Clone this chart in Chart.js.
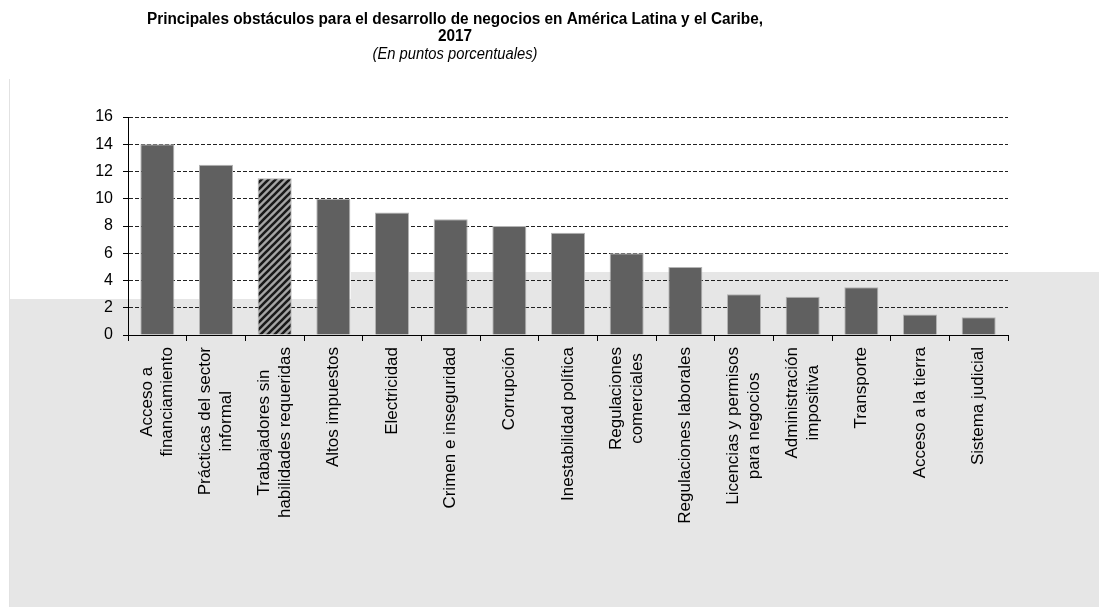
<!DOCTYPE html>
<html>
<head>
<meta charset="utf-8">
<script src="https://cdn.jsdelivr.net/npm/chart.js@4.4.0/dist/chart.umd.min.js"></script>
<style>
  html, body { margin: 0; padding: 0; background: #fff; }
  #wrap { width: 1099px; height: 607px; }
</style>
</head>
<body>
<div id="wrap"><canvas id="chart" width="1099" height="607"></canvas></div>
<script>
// data
const categories = [
    ['Acceso a', 'financiamiento'],
    ['Prácticas del sector', 'informal'],
    ['Trabajadores sin', 'habilidades requeridas'],
    ['Altos impuestos'],
    ['Electricidad'],
    ['Crimen e inseguridad'],
    ['Corrupción'],
    ['Inestabilidad política'],
    ['Regulaciones', 'comerciales'],
    ['Regulaciones laborales'],
    ['Licencias y permisos', 'para negocios'],
    ['Administración', 'impositiva'],
    ['Transporte'],
    ['Acceso a la tierra'],
    ['Sistema judicial']
]
const values = [14, 12.5, 11.5, 10, 9, 8.5, 8, 7.5, 6, 5, 3, 2.8, 3.5, 1.5, 1.3]
const yTicks = [0, 2, 4, 6, 8, 10, 12, 14, 16]
const hatchedIndex = 2
const titleLines = ['Principales obstáculos para el desarrollo de negocios en América Latina y el Caribe,', '2017']
const subtitle = '(En puntos porcentuales)'

const FONT = '"Liberation Sans", Arial, sans-serif'

// diagonal hatch for the highlighted bar
function makeHatch() {
    const c = document.createElement('canvas')
    c.width = 7
    c.height = 7
    const g = c.getContext('2d')
    g.fillStyle = '#a4a4a4'
    g.fillRect(0, 0, 7, 7)
    g.strokeStyle = '#1a1a1a'
    g.lineWidth = 2.6
    g.beginPath()
    g.moveTo(-1, 8); g.lineTo(8, -1)
    g.moveTo(-5, 5); g.lineTo(5, -5)
    g.moveTo(2, 12); g.lineTo(12, 2)
    g.stroke()
    return g.createPattern(c, 'repeat')
}
const hatch = makeHatch()
const barColors = values.map((v, i) => i === hatchedIndex ? hatch : '#606060')

const backdrop = {
    id: 'backdrop',
    beforeDraw(chart) {
        const ctx = chart.ctx
        ctx.save()
        ctx.fillStyle = '#fff'
        ctx.fillRect(0, 0, chart.width, chart.height)
        ctx.fillStyle = '#e6e6e6'
        ctx.fillRect(9, 299, 342, chart.height - 299)
        ctx.fillRect(351, 272, chart.width - 351, chart.height - 272)
        ctx.strokeStyle = '#e2e2e2'
        ctx.lineWidth = 1
        ctx.beginPath()
        ctx.moveTo(9.5, 79)
        ctx.lineTo(9.5, chart.height)
        ctx.stroke()
        ctx.restore()
    }
}

const texts = {
    id: 'texts',
    afterDraw(chart) {
        const ctx = chart.ctx
        ctx.save()
        ctx.fillStyle = '#000'
        ctx.textAlign = 'center'
        ctx.textBaseline = 'middle'

        // title, squeezed like the narrow font of the original
        ctx.font = 'bold 16px ' + FONT
        const sx = 616 / ctx.measureText(titleLines[0]).width
        const titleY = [20, 37]
        titleLines.forEach((t, i) => {
            ctx.save()
            ctx.translate(455, titleY[i])
            ctx.scale(sx, 1)
            ctx.fillText(t, 0, 0)
            ctx.restore()
        })
        ctx.font = 'italic 16px ' + FONT
        const sx2 = 165 / ctx.measureText(subtitle).width
        ctx.save()
        ctx.translate(455, 55)
        ctx.scale(sx2, 1)
        ctx.fillText(subtitle, 0, 0)
        ctx.restore()

        // category labels, rotated, lines centred on each other
        const xs = chart.scales.x
        const lineH = 20.5
        ctx.font = '17px ' + FONT
        categories.forEach((lines, i) => {
            const cx = xs.getPixelForValue(i)
            const w = Math.max(...lines.map(l => ctx.measureText(l).width))
            ctx.save()
            ctx.translate(cx, xs.top + 12 + w / 2)
            ctx.rotate(-Math.PI / 2)
            lines.forEach((l, j) => {
                ctx.fillText(l, 0, (j - (lines.length - 1) / 2) * lineH)
            })
            ctx.restore()
        })
        ctx.restore()
    }
}

new Chart(document.getElementById('chart'), {
    type: 'bar',
    data: {
        labels: categories,
        datasets: [{
            data: values,
            backgroundColor: barColors,
            borderColor: '#b4b4b4',
            borderWidth: 1,
            borderSkipped: 'bottom',
            barPercentage: 0.58,
            categoryPercentage: 1
        }]
    },
    options: {
        responsive: false,
        animation: false,
        devicePixelRatio: 1,
        layout: { padding: { top: 117, right: 91, left: 0, bottom: 0 } },
        plugins: {
            legend: { display: false },
            tooltip: { enabled: false },
            title: { display: false }
        },
        scales: {
            x: {
                ticks: { display: false },
                grid: {
                    drawOnChartArea: false,
                    drawTicks: true,
                    tickLength: 6,
                    tickColor: '#000',
                    offset: true
                },
                border: { color: '#000', width: 1 },
                afterFit: s => { s.height = 272 }
            },
            y: {
                min: 0,
                max: 16,
                afterBuildTicks: s => { s.ticks = yTicks.map(v => ({ value: v })) },
                ticks: {
                    color: '#000',
                    padding: 10,
                    font: { family: FONT, size: 16 }
                },
                grid: {
                    color: '#222',
                    tickColor: '#000',
                    tickLength: 5
                },
                border: { color: '#000', width: 1, dash: [4, 2] },
                afterFit: s => { s.width = 128 }
            }
        }
    },
    plugins: [backdrop, texts]
})
</script>
</body>
</html>
